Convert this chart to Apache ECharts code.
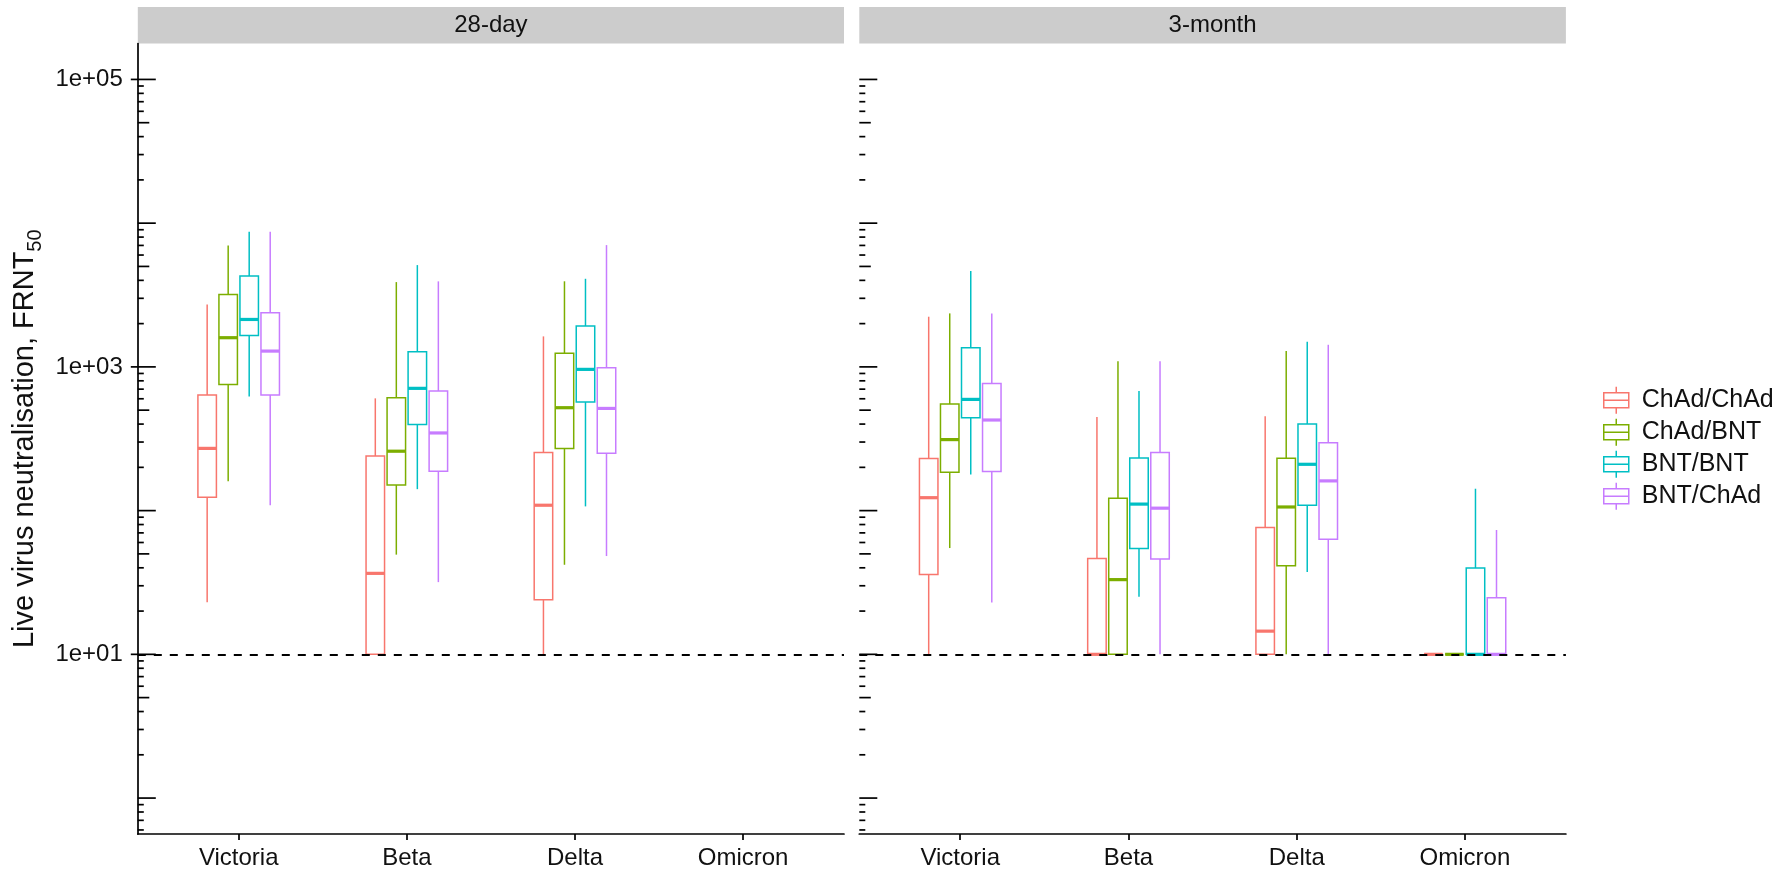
<!DOCTYPE html>
<html>
<head>
<meta charset="utf-8">
<script src="https://cdn.jsdelivr.net/npm/echarts@6/dist/echarts.min.js"></script>
<style>
  html, body { margin: 0; padding: 0; background: #ffffff; }
  #chart { width: 1787px; height: 874px; }
</style>
</head>
<body>
<div id="chart"></div>
<script>
// Categories and groups
const variants = ['Victoria', 'Beta', 'Delta', 'Omicron'];
const regimens = ['ChAd/ChAd', 'ChAd/BNT', 'BNT/BNT', 'BNT/ChAd'];
const panels = ['28-day', '3-month'];

// Box statistics per variant: [lower whisker, Q1, median, Q3, upper whisker]
const day28ChAdChAd = [[23, 124, 271, 637, 2720], [10, 10, 36.6, 240, 604], [10, 24, 109, 254, 1630], null];
const day28ChAdBNT  = [[160, 755, 1596, 3190, 7000], [49.4, 151, 259, 610, 3890], [42, 270, 520, 1245, 3940], null];
const day28BNTBNT   = [[621, 1656, 2138, 4285, 8716], [141, 398, 709, 1274, 5108], [107, 569, 961, 1922, 4102], null];
const day28BNTChAd  = [[109, 637, 1288, 2383, 8716], [31.8, 188, 347, 679, 3936], [48.3, 251, 514, 987, 7036], null];

const month3ChAdChAd = [[10, 36, 123, 230, 2234], [10, 10, 10, 46.5, 448], [10, 10, 14.5, 76.4, 453], [10, 10, 10, 10, 10]];
const month3ChAdBNT  = [[54.9, 185, 312, 551, 2356], [10, 10, 33.1, 122, 1096], [10, 41.4, 106, 231, 1288], [10, 10, 10, 10, 10]];
const month3BNTBNT   = [[178, 443, 594, 1360, 4641], [25.2, 54.4, 111, 232, 679], [37.4, 109, 210, 400, 1496], [10, 10, 10, 39.8, 142]];
const month3BNTChAd  = [[22.9, 187, 427, 767, 2356], [10, 46, 104, 254, 1096], [10, 63.1, 161, 297, 1425], [10, 10, 10, 24.8, 73.3]];

// Detection limit drawn as a dashed reference line
const detectionLimit = 10;

// Labelled y-axis breaks
const yTickLabels = { 1: '1e+01', 3: '1e+03', 5: '1e+05' };

const panelData = [
  [day28ChAdChAd, day28ChAdBNT, day28BNTBNT, day28BNTChAd],
  [month3ChAdChAd, month3ChAdBNT, month3BNTBNT, month3BNTChAd]
];

const COLORS = ['#F8766D', '#7CAE00', '#00BFC4', '#C77CFF'];
const FONT = '"Liberation Sans", Arial, Helvetica, sans-serif';
const TEXT = '#111111';
const Y_MIN = Math.pow(10, -0.25);
const Y_MAX = Math.pow(10, 5.25);
const X_MIN = 0.4, X_MAX = 4.6;
const DODGE = 0.125;   // spacing between boxes inside a variant
const BOX_W = 0.11;    // box width in axis units
const BOX_LW = 1.5;
const MEDIAN_LW = 3.2;

const GRID_TOP = 43.5, GRID_H = 790.5;
const gridBoxes = [
  { left: 137.8, width: 706.2 },
  { left: 859.3, width: 706.6 }
];

function boxSeries(name, gi, p, rows) {
  const data = [];
  rows.forEach((r, i) => { if (r) data.push([i + 1].concat(r)); });
  return {
    type: 'custom',
    name: name,
    xAxisIndex: p,
    yAxisIndex: p,
    z: 3,
    data: data,
    encode: { x: 0, y: [1, 2, 3, 4, 5] },
    renderItem: function (params, api) {
      const xc = api.value(0) + (gi - 1.5) * DODGE;
      const c = COLORS[gi];
      const pLow = api.coord([xc, api.value(1)]);
      const pQ1 = api.coord([xc, api.value(2)]);
      const pMed = api.coord([xc, api.value(3)]);
      const pQ3 = api.coord([xc, api.value(4)]);
      const pHigh = api.coord([xc, api.value(5)]);
      const xl = api.coord([xc - BOX_W / 2, api.value(3)])[0];
      const xr = api.coord([xc + BOX_W / 2, api.value(3)])[0];
      const lineStyle = { stroke: c, lineWidth: BOX_LW };
      return {
        type: 'group',
        children: [
          { type: 'line', shape: { x1: pQ3[0], y1: pQ3[1], x2: pHigh[0], y2: pHigh[1] }, style: lineStyle },
          { type: 'line', shape: { x1: pQ1[0], y1: pQ1[1], x2: pLow[0], y2: pLow[1] }, style: lineStyle },
          { type: 'rect', shape: { x: xl, y: pQ3[1], width: xr - xl, height: pQ1[1] - pQ3[1] },
            style: { fill: '#ffffff', stroke: c, lineWidth: BOX_LW } },
          { type: 'line', shape: { x1: xl, y1: pMed[1], x2: xr, y2: pMed[1] },
            style: { stroke: c, lineWidth: MEDIAN_LW } }
        ]
      };
    }
  };
}

// Log tick marks (1..9 x 10^k) drawn inside each panel, plus the dashed limit line
function logTickSeries(p) {
  const ticks = [];
  for (let e = -1; e <= 5; e++) {
    for (let m = 1; m <= 9; m++) {
      const v = m * Math.pow(10, e);
      if (v >= Y_MIN && v <= Y_MAX) ticks.push([X_MIN, v, m, e]);
    }
  }
  return {
    type: 'custom',
    name: 'logticks' + p,
    xAxisIndex: p,
    yAxisIndex: p,
    silent: true,
    z: 6,
    data: ticks,
    encode: { x: 0, y: 1 },
    renderItem: function (params, api) {
      const m = api.value(2), e = api.value(3);
      const pt = api.coord([X_MIN, api.value(1)]);
      const len = m === 1 ? 18 : (m === 5 ? 11.5 : 6);
      const outer = (p === 0 && m === 1 && yTickLabels[e]) ? 7 : 0;
      return {
        type: 'line',
        shape: { x1: pt[0] - outer, y1: pt[1], x2: pt[0] + len, y2: pt[1] },
        style: { stroke: '#000000', lineWidth: 1.7 }
      };
    },
    markLine: {
      silent: true,
      symbol: 'none',
      label: { show: false },
      lineStyle: { color: '#000000', type: [8, 8], width: 1.8 },
      data: [{ yAxis: detectionLimit }]
    }
  };
}

const series = [];
panelData.forEach((groups, p) => {
  groups.forEach((rows, gi) => series.push(boxSeries(regimens[gi], gi, p, rows)));
  series.push(logTickSeries(p));
});

const legendIcon = 'path://M12.5 0 V6 M0 6 H25 V21 H0 Z M0 13.5 H25 M12.5 21 V27';

const graphics = [];
panels.forEach((title, p) => {
  const g = gridBoxes[p];
  graphics.push({
    type: 'rect', left: g.left, top: 7, silent: true,
    shape: { width: g.width, height: 36.5 },
    style: { fill: '#cccccc' }
  });
  graphics.push({
    type: 'text', silent: true,
    x: g.left + g.width / 2, y: 25.5,
    style: { text: title, fill: TEXT, font: '24px ' + FONT, textAlign: 'center', textVerticalAlign: 'middle' }
  });
});

const option = {
  animation: false,
  backgroundColor: '#ffffff',
  textStyle: { fontFamily: FONT },
  grid: gridBoxes.map(g => ({ left: g.left, top: GRID_TOP, width: g.width, height: GRID_H, containLabel: false })),
  xAxis: gridBoxes.map((g, p) => ({
    type: 'value', gridIndex: p, min: X_MIN, max: X_MAX,
    splitLine: { show: false },
    axisLine: { show: true, onZero: false, lineStyle: { color: '#000000', width: 1.7 } },
    axisTick: { show: true, customValues: [1, 2, 3, 4], length: 6, lineStyle: { color: '#000000', width: 1.7 } },
    axisLabel: {
      customValues: [1, 2, 3, 4], margin: 12, fontSize: 24, color: TEXT, fontFamily: FONT,
      formatter: v => variants[Math.round(v) - 1] || ''
    }
  })),
  yAxis: gridBoxes.map((g, p) => ({
    type: 'log', gridIndex: p, logBase: 10, min: Y_MIN, max: Y_MAX,
    splitLine: { show: false },
    axisLine: { show: p === 0, onZero: false, lineStyle: { color: '#000000', width: 1.7 } },
    axisTick: { show: false },
    axisLabel: {
      show: p === 0, margin: 15, fontSize: 24, color: TEXT, fontFamily: FONT,
      formatter: function (v) {
        const e = Math.log10(v);
        const r = Math.round(e);
        if (Math.abs(e - r) > 1e-6) return '';
        return yTickLabels[r] || '';
      }
    },
    name: p === 0 ? '{t|Live virus neutralisation, FRNT}{s|50}' : '',
    nameLocation: 'middle',
    nameRotate: 90,
    nameGap: 92,
    nameTextStyle: {
      rich: {
        t: { fontSize: 29, color: TEXT, fontFamily: FONT, lineHeight: 40 },
        s: { fontSize: 20, color: TEXT, fontFamily: FONT, padding: [22, 0, 0, 0] }
      }
    }
  })),
  legend: {
    orient: 'vertical',
    left: 1598,
    top: 381,
    itemWidth: 25,
    itemHeight: 27,
    itemGap: 3.5,
    icon: legendIcon,
    textStyle: { fontSize: 25, color: TEXT, fontFamily: FONT, padding: [0, 0, 0, 8] },
    data: regimens.map((n, i) => ({
      name: n,
      icon: legendIcon,
      itemStyle: { color: '#ffffff', borderColor: COLORS[i], borderWidth: BOX_LW }
    }))
  },
  graphic: graphics,
  series: series
};

const chart = echarts.init(document.getElementById('chart'), null, { renderer: 'canvas' });
chart.setOption(option);
</script>
</body>
</html>
